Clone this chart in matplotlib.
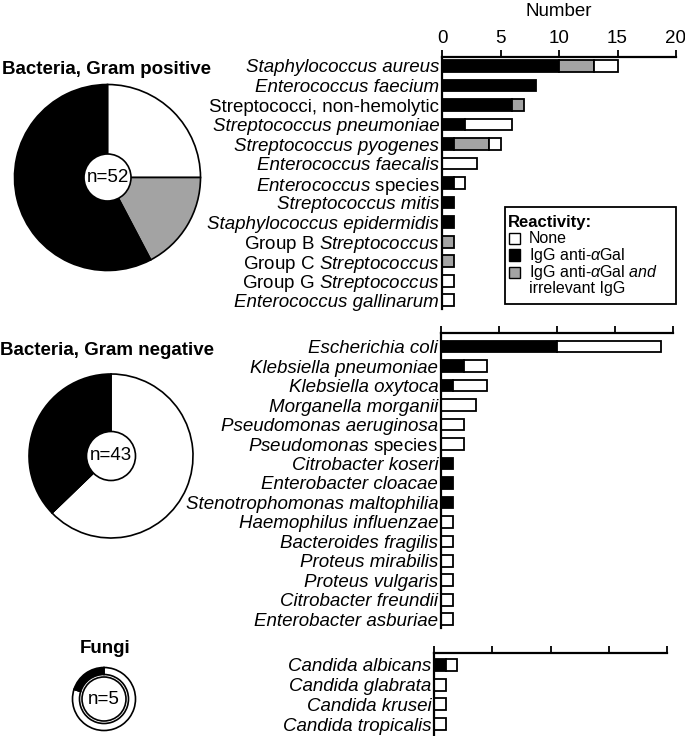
import numpy as np
import matplotlib
matplotlib.use("Agg")
import matplotlib.pyplot as plt
from matplotlib.patches import Rectangle, Circle

# ---- data -------------------------------------------------------------
pos_labels = ["Staphylococcus aureus", "Enterococcus faecium", "Streptococci, non-hemolytic",
              "Streptococcus pneumoniae", "Streptococcus pyogenes", "Enterococcus faecalis",
              r"$\mathit{Enterococcus}$ species", "Streptococcus mitis",
              "Staphylococcus epidermidis", r"Group B $\mathit{Streptococcus}$",
              r"Group C $\mathit{Streptococcus}$", r"Group G $\mathit{Streptococcus}$",
              "Enterococcus gallinarum"]
pos_black = [10, 8, 6, 2, 1, 0, 1, 1, 1, 0, 0, 0, 0]
pos_gray = [3, 0, 1, 0, 3, 0, 0, 0, 0, 1, 1, 0, 0]
pos_white = [2, 0, 0, 4, 1, 3, 1, 0, 0, 0, 0, 1, 1]

neg_labels = ["Escherichia coli", "Klebsiella pneumoniae", "Klebsiella oxytoca",
              "Morganella morganii", "Pseudomonas aeruginosa", r"$\mathit{Pseudomonas}$ species",
              "Citrobacter koseri", "Enterobacter cloacae", "Stenotrophomonas maltophilia",
              "Haemophilus influenzae", "Bacteroides fragilis", "Proteus mirabilis",
              "Proteus vulgaris", "Citrobacter freundii", "Enterobacter asburiae"]
neg_black = [10, 2, 1, 0, 0, 0, 1, 1, 1, 0, 0, 0, 0, 0, 0]
neg_gray = [0] * 15
neg_white = [9, 2, 3, 3, 2, 2, 0, 0, 0, 1, 1, 1, 1, 1, 1]

fun_labels = ["Candida albicans", "Candida glabrata", "Candida krusei", "Candida tropicalis"]
fun_black = [1, 0, 0, 0]
fun_gray = [0, 0, 0, 0]
fun_white = [1, 1, 1, 1]

upright = {"Streptococci, non-hemolytic"}

GRAY = "#a3a3a3"
FONT = ["Liberation Sans", "DejaVu Sans"]

plt.rcParams["font.family"] = FONT
plt.rcParams["mathtext.fontset"] = "custom"
plt.rcParams["mathtext.rm"] = "Liberation Sans"
plt.rcParams["mathtext.it"] = "Liberation Sans:italic"
plt.rcParams["mathtext.bf"] = "Liberation Sans:bold"

W, H = 685, 736
fig = plt.figure(figsize=(W / 100, H / 100), dpi=100)


def px_axes(x0, y0, x1, y1):
    # axes from pixel box (top-left origin)
    return fig.add_axes([x0 / W, 1 - y1 / H, (x1 - x0) / W, (y1 - y0) / H])


def bar_panel(box, labels, black, gray, white, ylim, show_ticklabels=False):
    ax = px_axes(*box)
    y = np.arange(len(labels))
    black = np.array(black); gray = np.array(gray); white = np.array(white)
    kw = dict(height=0.6, edgecolor="black", linewidth=1.3)
    ax.barh(y, black, color="black", **kw)
    ax.barh(y[gray > 0], gray[gray > 0], left=black[gray > 0], color=GRAY, **kw)
    m = white > 0
    ax.barh(y[m], white[m], left=(black + gray)[m], color="white", **kw)
    ax.set_xlim(0, 20)
    ax.set_ylim(*ylim)
    ax.set_yticks(y)
    ax.set_yticklabels(labels, fontsize=13.5)
    for t, lab in zip(ax.get_yticklabels(), labels):
        if "$" not in lab and lab not in upright:
            t.set_style("italic")
    ax.tick_params(axis="y", length=0, pad=2)
    ax.xaxis.tick_top()
    ax.set_xticks([0, 5, 10, 15, 20])
    ax.tick_params(axis="x", direction="out", length=5, width=1.3,
                   labeltop=show_ticklabels, labelsize=13.5, pad=2)
    for s in ("right", "bottom"):
        ax.spines[s].set_visible(False)
    for s in ("top", "left"):
        ax.spines[s].set_linewidth(1.6)
    return ax


ax1 = bar_panel((442, 57, 676, 309), pos_labels, pos_black, pos_gray, pos_white,
                (12.45, -0.46), show_ticklabels=True)
ax1.set_xlabel("Number", fontsize=13.5, labelpad=10)
ax1.xaxis.set_label_position("top")
bar_panel((441, 333, 673, 628), neg_labels, neg_black, neg_gray, neg_white, (14.45, -0.7))
bar_panel((434, 653, 667, 736), fun_labels, fun_black, fun_gray, fun_white, (3.6, -0.6))


# ---- pies -------------------------------------------------------------
def pie(cx, cy, r, hole, counts, n, ring=None):
    s = 2 * r + 8
    ax = px_axes(cx - s / 2, cy - s / 2, cx + s / 2, cy + s / 2)
    wp = dict(edgecolor="black", linewidth=1.2)
    if ring is not None:
        wp["width"] = ring
    ax.pie(counts, colors=["white", GRAY, "black"], startangle=90, counterclock=False,
           radius=r, wedgeprops=wp)
    ax.add_patch(Circle((0, 0), hole, facecolor="white", edgecolor="black", linewidth=1.2, zorder=5))
    ax.text(0, 0, f"n={n}", ha="center", va="center", fontsize=13.5, zorder=6)
    ax.set_xlim(-s / 2, s / 2)
    ax.set_ylim(-s / 2, s / 2)
    ax.set_aspect("equal")
    ax.axis("off")


pie(107.5, 177.5, 93, 23.5, [sum(pos_white), sum(pos_gray), sum(pos_black)], 52)
pie(111, 456, 82, 24.5, [sum(neg_white), sum(neg_gray), sum(neg_black)], 43)
pie(104, 699, 31.5, 22, [sum(fun_white), sum(fun_gray), sum(fun_black)], 5, ring=7)

# ---- titles -----------------------------------------------------------
tkw = dict(ha="center", va="center", fontsize=13.5, fontweight="bold")
fig.text(106 / W, 1 - 69.5 / H, "Bacteria, Gram positive", **tkw)
fig.text(107 / W, 1 - 350 / H, "Bacteria, Gram negative", **tkw)
fig.text(105 / W, 1 - 648.5 / H, "Fungi", **tkw)

# ---- legend -----------------------------------------------------------
fig.add_artist(Rectangle((505 / W, 1 - 304 / H), 171 / W, 97 / H, transform=fig.transFigure,
                         facecolor="white", edgecolor="black", linewidth=1.3, zorder=10))
fig.text(508 / W, 1 - 223 / H, "Reactivity:", fontsize=12, fontweight="bold",
         va="center", zorder=11)
entries = [("white", 238, "None"), ("black", 255, r"IgG anti-$\alpha$Gal"),
           (GRAY, 272.5, r"IgG anti-$\alpha$Gal $\mathit{and}$")]
for col, yc, txt in entries:
    fig.add_artist(Rectangle((509 / W, 1 - (yc + 5.5) / H), 11 / W, 11 / H,
                             transform=fig.transFigure, facecolor=col, edgecolor="black",
                             linewidth=1.0, zorder=11))
    fig.text(529 / W, 1 - yc / H, txt, fontsize=11.5, va="center", zorder=11)
fig.text(529 / W, 1 - 289 / H, "irrelevant IgG", fontsize=11.5, va="center", zorder=11)

fig.savefig("out.png", dpi=100)
